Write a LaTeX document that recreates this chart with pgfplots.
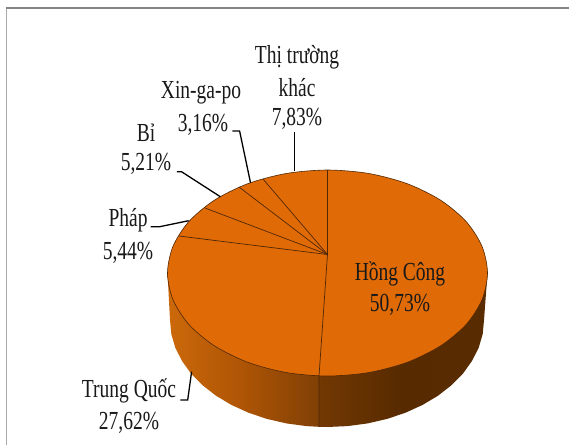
\documentclass[border=0pt]{standalone}
\usepackage{fontspec}
\usepackage{pgfplots}
\pgfplotsset{compat=1.18}
\newfontfamily\lbl[FakeStretch=0.75]{Liberation Serif}
\definecolor{pieTop}{RGB}{224,106,6}
\definecolor{pieEdge}{RGB}{80,40,5}
\definecolor{frameGray}{RGB}{133,133,133}
\pgfdeclarehorizontalshading{sideLeft}{100bp}{
  rgb(0bp)=(0.80,0.41,0.04); rgb(25bp)=(0.80,0.41,0.04);
  rgb(50bp)=(0.68,0.33,0.02); rgb(75bp)=(0.50,0.25,0.02); rgb(100bp)=(0.50,0.25,0.02)}
\pgfdeclarehorizontalshading{sideRight}{100bp}{
  rgb(0bp)=(0.45,0.22,0.01); rgb(25bp)=(0.45,0.22,0.01);
  rgb(50bp)=(0.34,0.165,0.00); rgb(75bp)=(0.35,0.17,0.00); rgb(100bp)=(0.35,0.17,0.00)}
\tikzset{lab/.style={font=\lbl\fontsize{26}{28}\selectfont,inner sep=0pt,text=black!90}}
\begin{document}
\begin{tikzpicture}
\begin{axis}[scale only axis,width=569pt,height=445pt,
  xmin=0,xmax=569,ymin=0,ymax=445,y dir=reverse,hide axis]
% keeps the page as large as the whole axis box
\addplot[draw=none,fill=white] coordinates {(0,0) (569,0) (569,445) (0,445)} -- cycle;
% frame
\addplot[frameGray!70,line width=1pt] coordinates {(6.5,445) (6.5,8.5)};
\addplot[frameGray,line width=2pt] coordinates {(5.5,8.3) (569,8.3)};
% side of the pie, left and right of the front edge
\addplot[draw=none,shade,shading=sideLeft] coordinates {
(167.5,273) (170,320) (171.3,334) (175.3,347.7) (182,360.9) (191,373.5) (202.4,385.1)
(216,395.7) (231.4,404.9) (248.5,412.7) (266.9,418.9) (286.4,423.4) (306.5,426.1)
(319,426.8) (319,300)} -- cycle;
\addplot[draw=none,shade,shading=sideRight] coordinates {
(319,426.8) (327,427) (347.5,426.1) (367.6,423.4) (387.1,418.9) (405.5,412.7) (422.6,404.9)
(438,395.7) (451.6,385.1) (463,373.5) (472,360.9) (478.7,347.7) (482.7,334) (484,320)
(487.5,273) (319,300)} -- cycle;
% top of the pie
\addplot[draw=pieEdge,line width=0.6pt,fill=pieTop,smooth cycle] coordinates {
(487.5,273) (482,299.7) (466.1,324.5) (440.6,345.8) (407.5,362.2) (368.9,372.5)
(327.5,376) (286.1,372.5) (247.5,362.2) (214.4,345.8) (188.9,324.5) (173,299.7)
(167.5,273) (173,246.3) (188.9,221.5) (214.4,200.2) (247.5,183.8) (286.1,173.5)
(327.5,170) (368.9,173.5) (407.5,183.8) (440.6,200.2) (466.1,221.5) (482,246.3)};
% slice edges
\addplot[pieEdge,line width=0.7pt] coordinates {(327.5,170) (327.5,254.5) (319,376) (319,426.8)};
\addplot[pieEdge,line width=0.7pt] coordinates {(263,179) (327.5,254.5)};
\addplot[pieEdge,line width=0.7pt] coordinates {(239,187) (327.5,254.5)};
\addplot[pieEdge,line width=0.7pt] coordinates {(205,208) (327.5,254.5)};
\addplot[pieEdge,line width=0.7pt] coordinates {(179,236) (327.5,254.5)};
% leader lines
\addplot[black,line width=1.3pt] coordinates {(294.7,131.7) (294.7,171)};
\addplot[black,line width=1.3pt] coordinates {(232.3,131) (239.6,131) (250.5,182.7)};
\addplot[black,line width=1.3pt] coordinates {(176.8,171.7) (181.5,171.7) (220.3,196.7)};
\addplot[black,line width=1.3pt] coordinates {(150.6,226.7) (159.7,226.7) (188.7,220.7)};
\addplot[black,line width=1.3pt] coordinates {(180.4,400) (187.7,400) (191.6,371.7)};
% labels
\node[lab] at (axis cs:297,57) {Thị trường};
\node[lab] at (axis cs:297,88) {khác};
\node[lab] at (axis cs:297,119) {7,83\%};
\node[lab] at (axis cs:201,93) {Xin-ga-po};
\node[lab] at (axis cs:203,125) {3,16\%};
\node[lab] at (axis cs:146,133) {Bỉ};
\node[lab] at (axis cs:146,164) {5,21\%};
\node[lab] at (axis cs:128,220) {Pháp};
\node[lab] at (axis cs:128,252.5) {5,44\%};
\node[lab] at (axis cs:400,274) {Hồng Công};
\node[lab] at (axis cs:400,305) {50,73\%};
\node[lab] at (axis cs:129,391) {Trung Quốc};
\node[lab] at (axis cs:129,422.5) {27,62\%};
\end{axis}
\end{tikzpicture}
\end{document}
